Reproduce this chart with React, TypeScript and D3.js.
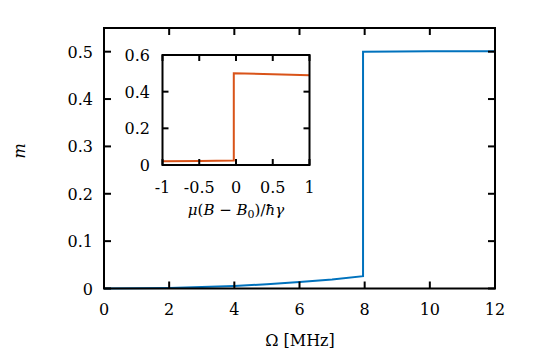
import React, { useEffect, useRef } from 'react';
import * as d3 from 'd3';

// main curve: magnetization m vs drive frequency Omega (MHz)
const omega = [0, 1, 2, 3, 4, 5, 6, 7, 7.95, 7.95, 9, 10, 11, 12];
const mValues = [0, 0.0003, 0.0012, 0.003, 0.0055, 0.009, 0.0135, 0.019, 0.026, 0.5, 0.5005, 0.501, 0.501, 0.501];
const mainXTicks = [0, 2, 4, 6, 8, 10, 12];
const mainYTicks = [0, 0.1, 0.2, 0.3, 0.4, 0.5];

// inset: m vs mu(B - B0)/hbar gamma
const detuning = [-1, -0.5, -0.03, -0.03, 0.5, 1];
const insetM = [0.02, 0.022, 0.024, 0.5, 0.495, 0.49];
const insetXTicks = [-1, -0.5, 0, 0.5, 1];
const insetYTicks = [0, 0.2, 0.4, 0.6];

const FONT = "'DejaVu Serif', 'Liberation Serif', serif";

const App = () => {
  const svgRef = useRef<SVGSVGElement>(null);

  useEffect(() => {
    const svg = d3.select(svgRef.current);
    svg.selectAll('*').remove();

    const fmt = (d: number) => (d === 0 ? '0' : String(d));

    const drawFrame = (
      x: d3.ScaleLinear<number, number>,
      y: d3.ScaleLinear<number, number>,
      xTicks: number[],
      yTicks: number[],
      tick: number
    ) => {
      const [x0, x1] = x.range();
      const [y0, y1] = y.range();
      const g = svg.append('g');
      g.append('rect')
        .attr('x', x0).attr('y', y1)
        .attr('width', x1 - x0).attr('height', y0 - y1)
        .attr('fill', 'none').attr('stroke', '#000').attr('stroke-width', 2);
      xTicks.forEach(t => {
        g.append('line').attr('x1', x(t)).attr('x2', x(t)).attr('y1', y0).attr('y2', y0 - tick)
          .attr('stroke', '#000').attr('stroke-width', 2);
        g.append('line').attr('x1', x(t)).attr('x2', x(t)).attr('y1', y1).attr('y2', y1 + tick)
          .attr('stroke', '#000').attr('stroke-width', 2);
      });
      yTicks.forEach(t => {
        g.append('line').attr('x1', x0).attr('x2', x0 + tick).attr('y1', y(t)).attr('y2', y(t))
          .attr('stroke', '#000').attr('stroke-width', 2);
        g.append('line').attr('x1', x1).attr('x2', x1 - tick).attr('y1', y(t)).attr('y2', y(t))
          .attr('stroke', '#000').attr('stroke-width', 2);
      });
      return g;
    };

    // ---- main plot ----
    const x = d3.scaleLinear().domain([0, 12]).range([104, 495]);
    const y = d3.scaleLinear().domain([0, 0.55]).range([288.5, 28]);

    const line = d3.line<number>()
      .x((_, i) => x(omega[i]))
      .y(d => y(d));

    svg.append('path')
      .datum(mValues)
      .attr('d', line)
      .attr('fill', 'none')
      .attr('stroke', '#0072BD')
      .attr('stroke-width', 2);

    drawFrame(x, y, mainXTicks, mainYTicks, 7);

    svg.append('g').selectAll('text').data(mainXTicks).enter().append('text')
      .attr('x', d => x(d)).attr('y', 315)
      .attr('text-anchor', 'middle')
      .attr('font-size', 16)
      .text(fmt);

    svg.append('g').selectAll('text').data(mainYTicks).enter().append('text')
      .attr('x', 93).attr('y', d => y(d) + 6)
      .attr('text-anchor', 'end')
      .attr('font-size', 16)
      .text(fmt);

    svg.append('text')
      .attr('transform', 'translate(25, 151) rotate(-90)')
      .attr('text-anchor', 'middle')
      .attr('font-size', 16).attr('font-style', 'italic')
      .text('m');

    svg.append('text')
      .attr('x', 300).attr('y', 346)
      .attr('text-anchor', 'middle')
      .attr('font-size', 16)
      .text('Ω [MHz]');

    // ---- inset ----
    const xi = d3.scaleLinear().domain([-1, 1]).range([162.5, 309.5]);
    const yi = d3.scaleLinear().domain([0, 0.6]).range([165, 55]);

    svg.append('rect')
      .attr('x', 162.5).attr('y', 55).attr('width', 147).attr('height', 110)
      .attr('fill', '#fff');

    const insetLine = d3.line<number>()
      .x((_, i) => xi(detuning[i]))
      .y(d => yi(d));

    svg.append('path')
      .datum(insetM)
      .attr('d', insetLine)
      .attr('fill', 'none')
      .attr('stroke', '#D95319')
      .attr('stroke-width', 2);

    drawFrame(xi, yi, insetXTicks, insetYTicks, 6);

    svg.append('g').selectAll('text').data(insetXTicks).enter().append('text')
      .attr('x', d => xi(d)).attr('y', 193)
      .attr('text-anchor', 'middle')
      .attr('font-size', 16)
      .text(d => (d < 0 ? '-' + Math.abs(d) : fmt(d)));

    svg.append('g').selectAll('text').data(insetYTicks).enter().append('text')
      .attr('x', 150).attr('y', d => yi(d) + 6)
      .attr('text-anchor', 'end')
      .attr('font-size', 16)
      .text(fmt);

    const lab = svg.append('text')
      .attr('x', 236).attr('y', 215)
      .attr('text-anchor', 'middle')
      .attr('font-size', 15);
    lab.append('tspan').attr('font-style', 'italic').text('μ');
    lab.append('tspan').text('(');
    lab.append('tspan').attr('font-style', 'italic').text('B');
    lab.append('tspan').text(' − ');
    lab.append('tspan').attr('font-style', 'italic').text('B');
    lab.append('tspan').attr('dy', 3).attr('font-size', 11).text('0');
    lab.append('tspan').attr('dy', -3).text(')/');
    lab.append('tspan').attr('font-style', 'italic').text('ħγ');
  }, []);

  return (
    <svg
      ref={svgRef}
      width={536}
      height={359}
      fontFamily={FONT}
      style={{ position: 'absolute', left: 0, top: 0, display: 'block', background: '#fff' }}
    ></svg>
  );
};

export default App;
